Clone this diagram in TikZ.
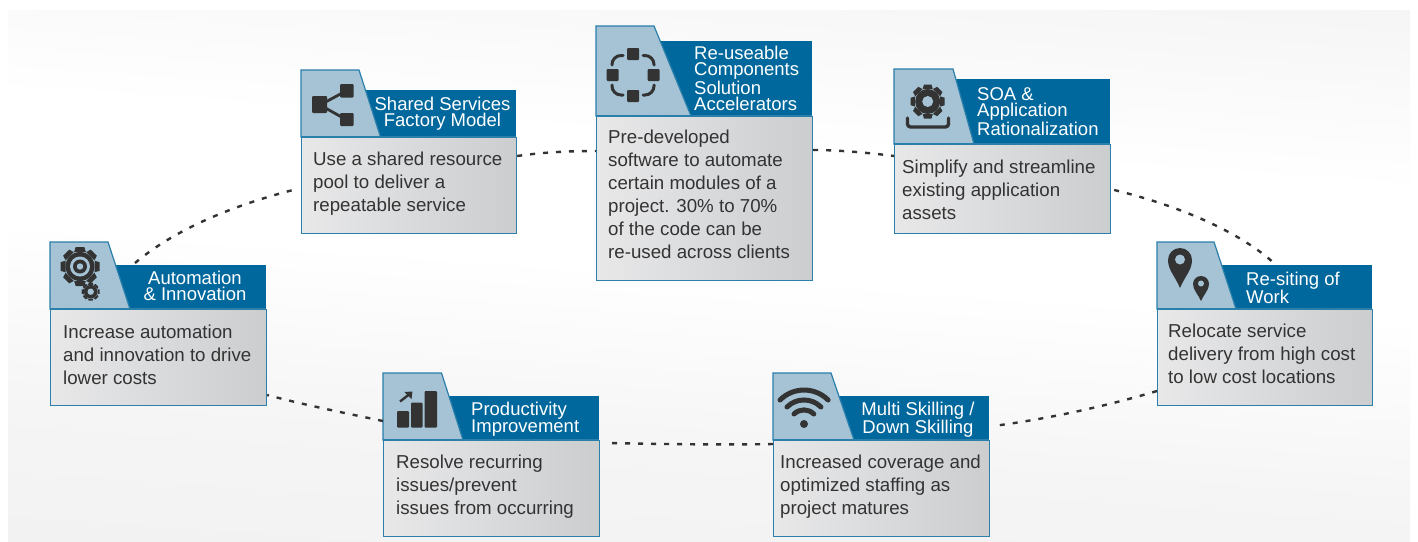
\documentclass[tikz,border=0pt]{standalone}
\usepackage{fontspec}
\setmainfont{Liberation Sans}
\usetikzlibrary{calc}
\definecolor{hdr}{HTML}{00689C}
\definecolor{tabc}{HTML}{A5C3D4}
\definecolor{edge}{HTML}{2A7FAB}
\definecolor{ink}{HTML}{333333}
\definecolor{bodyL}{HTML}{E8E8E9}
\definecolor{bodyR}{HTML}{CBCDCF}
\pgfdeclareverticalshading{bgshade}{100bp}{
  color(0bp)=(black!7);
  color(20bp)=(black!6.5);
  color(38bp)=(black!4);
  color(50bp)=(white);
  color(58bp)=(white);
  color(70bp)=(black!4);
  color(85bp)=(black!7);
  color(100bp)=(black!10)}
\tikzset{
  bodybox/.style={draw=edge,line width=1.2pt,left color=bodyL,right color=bodyR,inner sep=0pt,anchor=north west},
  hdrbox/.style={fill=hdr,inner sep=0pt,anchor=north west},
  hdrtext/.style={text=white,font=\fontsize{18.5}{16.7}\selectfont,inner sep=0pt,anchor=north west},
  bodytext/.style={text=ink,font=\fontsize{18.7}{23}\selectfont,align=left,inner sep=0pt,anchor=north west},
  link/.style={draw=ink,line width=2.4pt,dash pattern=on 5pt off 8pt},
  icon/.style={fill=ink,draw=none},
  iconline/.style={draw=ink,fill=none,line cap=round,line join=round},
}
% #1 name, #2 left, #3 right, #4 tab top, #5 header top, #6 divider, #7 bottom, #8 tab top right, #9 tab bottom right
\newcommand{\cardbox}[9]{%
  \pgfmathsetmacro{\cardw}{#3-#2}\pgfmathsetmacro{\hh}{#6-#5}\pgfmathsetmacro{\bh}{#7-#6}%
  \node[hdrbox,minimum width=\cardw pt,minimum height=\hh pt] (#1h) at (#2,#5) {};
  \node[bodybox,minimum width=\cardw pt,minimum height=\bh pt] (#1) at (#2,#6) {};
  \draw[fill=tabc,draw=edge,line width=1.2pt,line join=miter] (#2,#6) -- (#2,#4) -- (#8,#4) -- (#9,#6) -- cycle;
  \draw[edge,line width=1.2pt] (#2,#6) -- (#3,#6);
}
\newcommand{\gearicon}[5]{% cx cy outer body hole
  \foreach \a in {0,45,...,315}{
    \fill[ink,rotate around={\a:(#1,#2)}] ({#1-#3*0.30},{#2-#4}) -- ({#1-#3*0.22},{#2-#3}) -- ({#1+#3*0.22},{#2-#3}) -- ({#1+#3*0.30},{#2-#4}) -- cycle;
  }
  \fill[ink] (#1,#2) circle[radius=#4];
  \fill[tabc] (#1,#2) circle[radius=#5];
}
\begin{document}
\begin{tikzpicture}[x=1pt,y=-1pt]
\useasboundingbox (0,0) rectangle (1418,541);
\fill[white] (0,0) rectangle (1418,541);
\begin{scope}
\clip (8,10) rectangle (1410,541);
\shade[shading=bgshade,shading angle=-4] (-100,-100) rectangle (1520,640);
\end{scope}

% cards
\cardbox{shared}{301}{516}{70}{90}{137}{233}{359}{380.5}
\cardbox{reuse}{596}{812}{26}{41}{116}{280}{654}{691}
\cardbox{soa}{894}{1110}{69}{79}{144}{233}{953}{974}
\cardbox{resite}{1157}{1372}{242}{265}{309}{405}{1214}{1236}
\cardbox{auto}{50}{266}{242}{265}{309}{405}{108}{130}
\cardbox{prod}{383}{599}{373}{396}{440}{536}{441.5}{463}
\cardbox{multi}{773}{989}{373}{396}{440}{536}{831}{854}

% connectors
\coordinate (autoTop) at (135,263);
\coordinate (resiteTop) at (1275,264);
\path[link] (autoTop) .. controls (180,225) and (245,202) .. ([xshift=-4pt]shared.west |- 0,189);
\path[link] (shared.east |- 0,156) .. controls (545,152) and (570,151) .. (reuse.west |- 0,151);
\path[link] (reuse.east |- 0,150) .. controls (840,150) and (870,153) .. (soa.west |- 0,156);
\path[link] ([xshift=3pt]soa.east |- 0,190) .. controls (1180,206) and (1240,232) .. (resiteTop);
\path[link] (resite.west |- 0,391) .. controls (1100,408) and (1040,420) .. ([xshift=3pt]multi.east |- 0,426);
\path[link] (multi.west |- 0,444) .. controls (715,445) and (660,444) .. ([xshift=8pt]prod.east |- 0,443);
\path[link] (prod.west |- 0,421) .. controls (340,412) and (305,405) .. (auto.east |- 0,395);

% header text
\node[hdrtext,align=center,anchor=north] (sharedt) at (442.5,96.5) {Shared Services\\Factory Model};
\node[hdrtext,align=left] (reuset) at (694,45.5) {Re-useable\\Components\\Solution\\Accelerators};
\node[hdrtext,align=left] (soat) at (977,87) {SOA \&\\Application\\Rationalization};
\node[hdrtext,align=left] (resitet) at (1246,271.5) {Re-siting of\\Work};
\node[hdrtext,align=center,anchor=north] (autot) at (195,270.5) {Automation\\\& Innovation};
\node[hdrtext,align=left] (prodt) at (471,402) {Productivity\\Improvement};
\node[hdrtext,align=center,anchor=north] (multit) at (918,402) {Multi Skilling /\\Down Skilling};

% body text
\node[bodytext] (sharedb) at (313,152) {Use a shared resource\\pool to deliver a\\repeatable service};
\node[bodytext] (reuseb) at (608,130) {Pre-developed\\software to automate\\certain modules of a\\project. 30\% to 70\%\\of the code can be\\re-used across clients};
\node[bodytext] (soab) at (902,159.5) {Simplify and streamline\\existing application\\assets};
\node[bodytext] (resiteb) at (1168,324) {Relocate service\\delivery from high cost\\to low cost locations};
\node[bodytext] (autob) at (63,325) {Increase automation\\and innovation to drive\\lower costs};
\node[bodytext] (prodb) at (396,455) {Resolve recurring\\issues/prevent\\issues from occurring};
\node[bodytext] (multib) at (780,455) {Increased coverage and\\optimized staffing as\\project matures};

% icon: shared services
\draw[ink,line width=2.8pt] (320,105) -- (346,91) (320,105) -- (346,119.5);
\fill[icon,rounded corners=1pt] (312,96) rectangle (327,113);
\fill[icon,rounded corners=1pt] (340,84) rectangle (353.5,97.5);
\fill[icon,rounded corners=1pt] (340,113) rectangle (353.5,126);

% icon: re-useable ring
\foreach \dx/\dy in {0/-21,0/21,-20.5/0,20.5/0}{
  \fill[icon,rounded corners=1pt] ({633+\dx-6},{75+\dy-6}) rectangle ({633+\dx+6},{75+\dy+6});
}
\draw[iconline,line width=3pt,rounded corners=9pt]
  (643,55.5) -- (654,55.5) -- (654,65)
  (654,85) -- (654,95) -- (643,95)
  (623,95) -- (612,95) -- (612,85)
  (612,65) -- (612,55.5) -- (623,55.5);

% icon: SOA gear
\gearicon{927.7}{101.5}{17}{12.5}{5.5}
\draw[iconline,line width=3.4pt,rounded corners=3pt] (907.5,118) -- (907.5,127) -- (948.5,127) -- (948.5,118);

% icon: automation gears
\gearicon{80}{266.5}{19.5}{14.5}{10}
\fill[ink] (80,266.5) circle[radius=7];
\fill[tabc] (80,266.5) circle[radius=3.2];
\gearicon{90.7}{291.7}{9}{6.8}{3.2}

% icon: pins
\fill[icon] (1180,288) .. controls (1175,276) and (1168,270) .. (1168,260) arc[start angle=180,end angle=360,radius=12] .. controls (1192,270) and (1185,276) .. (1180,288) -- cycle;
\fill[tabc] (1180,259.5) circle[radius=5];
\fill[icon] (1201,301) .. controls (1198,294) and (1193,290) .. (1193,284) arc[start angle=180,end angle=360,radius=8] .. controls (1209,290) and (1204,294) .. (1201,301) -- cycle;
\fill[tabc] (1201,283.5) circle[radius=3];

% icon: bars
\fill[icon,rounded corners=1pt] (397,411) rectangle (409,427.5);
\fill[icon,rounded corners=1pt] (411,402.7) rectangle (422.6,427.5);
\fill[icon,rounded corners=1pt] (424.5,391) rectangle (437,427.5);
\draw[ink,line width=2.4pt] (400,401.5) -- (409,394.5);
\fill[ink] (412.5,391.5) -- (404.5,392) -- (411.5,399) -- cycle;

% icon: wifi
\fill[ink] (804,424) circle[radius=4];
\draw[iconline,line width=5pt] (780,400) arc[start angle=225,end angle=315,radius=34];
\draw[iconline,line width=5pt] (787,407) arc[start angle=225,end angle=315,radius=24];
\draw[iconline,line width=5pt] (794,414) arc[start angle=225,end angle=315,radius=14];
\end{tikzpicture}
\end{document}
